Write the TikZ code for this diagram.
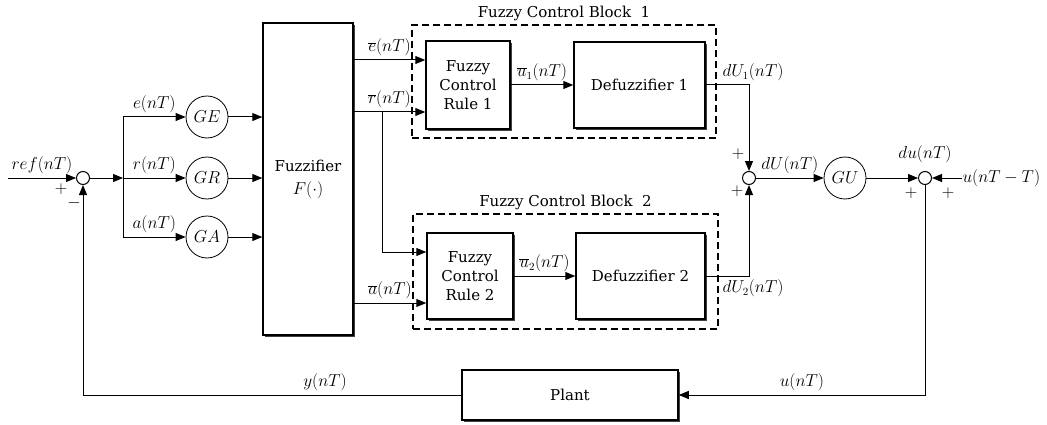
\documentclass[tikz,border=0pt]{standalone}
\usepackage{fontspec}
\setmainfont{DejaVu Serif}
\usetikzlibrary{arrows.meta, shadows, positioning}

\tikzset{
  blk/.style={draw, line width=1.5pt, fill=white, align=center,
    font=\fontsize{15}{19}\selectfont,
    general shadow={fill=black!75, shadow xshift=2pt, shadow yshift=-2pt}},
  gain/.style={draw, circle, line width=0.8pt, minimum size=42pt, inner sep=0pt},
  sumc/.style={draw, circle, line width=1pt, minimum size=13pt, inner sep=0pt},
  blkframe/.style={draw, line width=1.2pt, dash pattern=on 7pt off 4pt},
  ttl/.style={font=\fontsize{15}{19}\selectfont},
  sgn/.style={inner sep=0pt, font=\fontsize{16}{18}\selectfont},
}

\begin{document}
\begin{tikzpicture}[x=1pt, y=1pt, line width=1pt,
    >={Stealth[length=10pt, width=8pt, inset=0pt]},
    font=\fontsize{16}{19}\selectfont]

    % 画布大小与原图一致
    \useasboundingbox (0,0) rectangle (1047,424);

    % --- 1. 比较点与三个增益 ---
    \coordinate (in) at (8,246);
    \node[sumc] (s1) at (83,246) {};
    \coordinate (bar) at (123,246);
    \coordinate (bartop) at (123,307);
    \coordinate (barbot) at (123,187);
    \node[gain] (ge) at (207,307) {$GE$};
    \node[gain] (gr) at (207,246) {$GR$};
    \node[gain] (ga) at (207,187) {$GA$};

    % --- 2. 模糊化模块 ---
    \node[blk, minimum width=90pt, minimum height=312pt] (fz) at (308,245)
        {Fuzzifier\\[4pt]{\fontsize{17}{19}\selectfont$F(\cdot)$}};

    % --- 3. 模糊控制块 1 ---
    \node[blkframe, minimum width=304pt, minimum height=113pt] (fcb1) at (564,342.5) {};
    \node[ttl, above=0pt] (t1) at (fcb1.north) {Fuzzy Control Block~~1};
    \node[blk, minimum width=84pt, minimum height=88pt] (rule1) at (468,339)
        {Fuzzy\\Control\\Rule 1};
    \node[blk, minimum width=131pt, minimum height=86pt] (dfz1) at (639.5,339)
        {Defuzzifier 1};

    % --- 4. 模糊控制块 2 ---
    \node[blkframe, minimum width=305pt, minimum height=115pt] (fcb2) at (565.5,152.5) {};
    \node[ttl, above=0pt] (t2) at (fcb2.north) {Fuzzy Control Block~~2};
    \node[blk, minimum width=86pt, minimum height=86pt] (rule2) at (470,148)
        {Fuzzy\\Control\\Rule 2};
    \node[blk, minimum width=129pt, minimum height=86pt] (dfz2) at (640.5,148)
        {Defuzzifier 2};

    % --- 5. 右侧的求和、GU 与对象 ---
    \node[sumc] (s3) at (749,246) {};
    \node[gain] (gu) at (845,246) {$GU$};
    \node[sumc] (s2) at (925,246) {};
    \node[above=4pt of s2] (dulbl) {$du(nT)$};
    \node[anchor=west, inner sep=0pt] (uprev) at (962,246) {$u(nT-T)$};
    \node[blk, minimum width=216pt, minimum height=50pt] (plant) at (570,29) {Plant};

    % --- 6. 连线 ---
    \draw[->] (in) -- node[above]{$ref(nT)$} (s1);
    \draw[->] (s1) -- (bar);
    \draw (bartop) -- (barbot);
    \draw[->] (bartop) -- node[above]{$e(nT)$} (ge);
    \draw[->] (bar) -- node[above]{$r(nT)$} (gr);
    \draw[->] (barbot) -- node[above]{$a(nT)$} (ga);
    \draw[->] (ge) -- (ge -| fz.west);
    \draw[->] (gr) -- (gr -| fz.west);
    \draw[->] (ga) -- (ga -| fz.west);

    % 模糊化输出
    \coordinate (ein) at ([yshift=25pt]rule1.west);
    \coordinate (rin) at ([yshift=-27pt]rule1.west);
    \coordinate (r2in) at ([yshift=24pt]rule2.west);
    \coordinate (ain) at ([yshift=-27pt]rule2.west);
    \coordinate (rbr) at ([xshift=29pt]fz.east |- rin);
    \draw[->] (fz.east |- ein) -- node[above]{$\overline{e}(nT)$} (ein);
    \draw[->] (fz.east |- rin) -- node[above]{$\overline{r}(nT)$} (rin);
    \draw[->] (rbr) |- (r2in);
    \draw[->] (fz.east |- ain) -- node[above]{$\overline{a}(nT)$} (ain);
    \draw[->] (rule1) -- node[above]{$\overline{u}_1(nT)$} (dfz1);
    \draw[->] (rule2) -- node[above]{$\overline{u}_2(nT)$} (dfz2);

    % 解模糊输出与求和
    \draw[->] (dfz1.east) -| node[pos=0.5, above, xshift=4pt]{$dU_1(nT)$} (s3.north);
    \draw[->] (dfz2.east) -| node[pos=0.5, below, xshift=4pt]{$dU_2(nT)$} (s3.south);
    \draw[->] (s3) -- node[above]{$dU(nT)$} (gu);
    \draw[->] (gu) -- (s2);
    \draw[->] (uprev.west) -- (s2);

    % 反馈回路
    \draw[->] (s2) |- node[pos=0.75, above]{$u(nT)$} (plant.east);
    \draw[->] (plant.west) -| node[pos=0.18, above]{$y(nT)$} (s1.south);

    % --- 7. 正负号 ---
    \node[sgn] (p1) at ([shift={(-22pt,-11pt)}]s1) {$+$};
    \node[sgn] (m1) at ([shift={(-9pt,-25pt)}]s1) {$-$};
    \node[sgn] (p3a) at ([shift={(-11pt,24pt)}]s3) {$+$};
    \node[sgn] (p3b) at ([shift={(-12pt,-13pt)}]s3) {$+$};
    \node[sgn] (p2a) at ([shift={(-14pt,-15pt)}]s2) {$+$};
    \node[sgn] (p2b) at ([shift={(23pt,-15pt)}]s2) {$+$};

\end{tikzpicture}
\end{document}
